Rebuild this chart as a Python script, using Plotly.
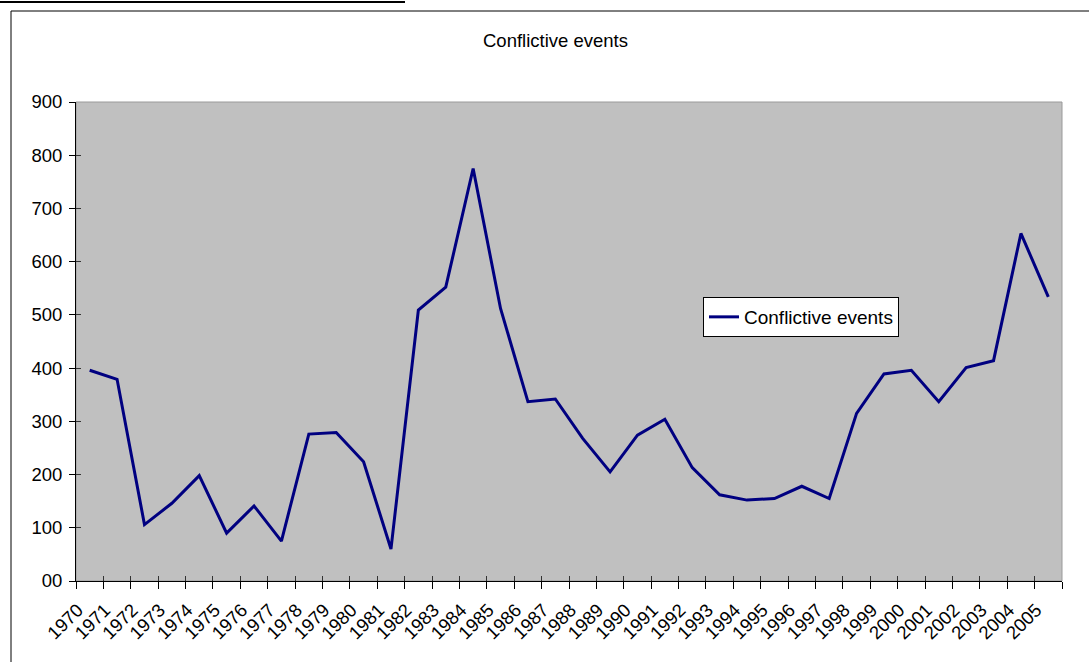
import plotly.graph_objects as go

years = [str(y) for y in range(1970, 2006)]
events = [396, 379, 106, 146, 198, 90, 141, 75, 276, 279, 224, 60,
          509, 552, 775, 512, 337, 342, 268, 205, 274, 304, 213, 162,
          152, 155, 178, 155, 315, 389, 396, 337, 401, 414, 653, 534]
y_ticks = [0, 100, 200, 300, 400, 500, 600, 700, 800, 900]
y_ticktext = ["00", "100", "200", "300", "400", "500", "600", "700", "800", "900"]
series_name = "Conflictive events"
title_text = "Conflictive events"

FONT = "Liberation Sans, Arial, sans-serif"
FS = 18.5

W, H = 1089, 662
L, R, T, B = 76, 27, 102, 81
pw, ph = W - L - R, H - T - B


def px_x(v):
    return (v - L) / pw


def px_y(v):
    return (H - B - v) / ph


fig = go.Figure()
fig.add_trace(go.Scatter(
    x=years, y=events, mode="lines", name=series_name,
    line=dict(color="#000080", width=3),
))
# empty helper trace for the overlay axes (inside tick marks)
fig.add_trace(go.Scatter(x=[], y=[], xaxis="x2", yaxis="y2",
                         showlegend=False, hoverinfo="skip"))

n = len(years)
boundaries = [i - 0.5 for i in range(n + 1)]

fig.update_layout(
    width=W, height=H,
    margin=dict(l=L, r=R, t=T, b=B),
    paper_bgcolor="white",
    plot_bgcolor="#C0C0C0",
    font=dict(family=FONT, size=FS, color="black"),
    showlegend=True,
    legend=dict(
        x=px_x(703), y=px_y(297), xanchor="left", yanchor="top",
        bgcolor="white", bordercolor="black", borderwidth=1,
        font=dict(family=FONT, size=19, color="black"),
        tracegroupgap=0, itemwidth=30,
    ),
    xaxis=dict(
        type="category", categoryorder="array", categoryarray=years,
        tickmode="array", tickvals=years, ticktext=years,
        tickson="boundaries", ticks="outside", ticklen=7, tickcolor="black",
        tickwidth=1, tickangle=-45,
        showline=True, linecolor="black", linewidth=1,
        showgrid=False, zeroline=False,
        range=[-0.5, n - 0.5],
        ticklabelstandoff=10, ticklabelshift=-12,
        tickfont=dict(family=FONT, size=FS, color="black"),
    ),
    yaxis=dict(
        range=[0, 900], tickmode="array", tickvals=y_ticks, ticktext=y_ticktext,
        ticks="outside", ticklen=6, tickcolor="black", tickwidth=1,
        showline=True, linecolor="black", linewidth=1,
        showgrid=False, zeroline=False,
        tickfont=dict(family=FONT, size=FS, color="black"),
        ticklabelstandoff=3,
    ),
    xaxis2=dict(
        overlaying="x", anchor="y", side="bottom", type="linear",
        range=[-0.5, n - 0.5], tickmode="array", tickvals=boundaries,
        ticks="inside", ticklen=5, tickcolor="#333333", tickwidth=1,
        showticklabels=False, showline=False, showgrid=False, zeroline=False,
    ),
    yaxis2=dict(
        overlaying="y", anchor="x", side="left",
        range=[0, 900], tickmode="array", tickvals=y_ticks,
        ticks="inside", ticklen=5, tickcolor="#333333", tickwidth=1,
        showticklabels=False, showline=False, showgrid=False, zeroline=False,
    ),
    shapes=[
        # plot area border (grey, top & right visible)
        dict(type="rect", xref="paper", yref="paper", x0=0, x1=1, y0=0, y1=1,
             line=dict(color="#9a9a9a", width=1), layer="below"),
        # outer chart frame
        dict(type="rect", xref="paper", yref="paper",
             x0=px_x(11), x1=px_x(1100), y0=px_y(680), y1=px_y(11),
             line=dict(color="black", width=1), fillcolor="rgba(0,0,0,0)"),
        # cut-off caption underline at the top
        dict(type="line", xref="paper", yref="paper",
             x0=px_x(0), x1=px_x(405), y0=px_y(2), y1=px_y(2),
             line=dict(color="black", width=2)),
    ],
    annotations=[
        dict(text=title_text, xref="paper", yref="paper",
             x=px_x(555), y=px_y(41), xanchor="center", yanchor="middle",
             showarrow=False, font=dict(family=FONT, size=FS, color="black")),
    ],
)

fig.write_html("out.html", config={"displayModeBar": False},
               post_script="document.body.style.margin='0';document.body.style.overflow='hidden';")
